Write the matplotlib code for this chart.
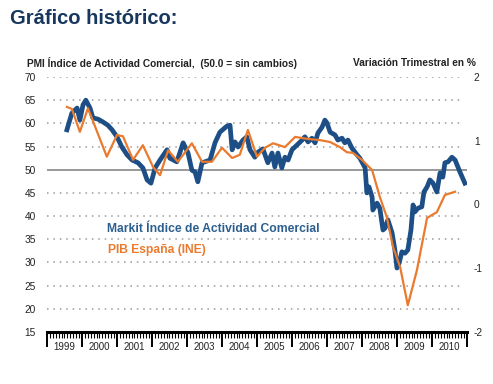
import numpy as np
import matplotlib
matplotlib.use("Agg")
import matplotlib.pyplot as plt
from matplotlib.ticker import MultipleLocator

plt.rcParams['font.family'] = ['Liberation Sans', 'DejaVu Sans']
plt.rcParams['axes.unicode_minus'] = False

# Markit PMI (left axis)
pmi_dates = [1999.57, 1999.71, 1999.86, 1999.94, 2000.03, 2000.11, 2000.23, 2000.31, 2000.46, 2000.6,
             2000.74, 2000.86, 2001.0, 2001.14, 2001.29, 2001.43, 2001.6, 2001.74, 2001.86, 2001.97,
             2002.09, 2002.23, 2002.43, 2002.51, 2002.71, 2002.89, 2003.03, 2003.14, 2003.23, 2003.31,
             2003.43, 2003.51, 2003.66, 2003.8, 2003.94, 2004.14, 2004.23, 2004.29, 2004.37, 2004.46,
             2004.6, 2004.71, 2004.8, 2004.94, 2005.03, 2005.17, 2005.31, 2005.43, 2005.51, 2005.6,
             2005.71, 2005.8, 2005.89, 2006.0, 2006.14, 2006.29, 2006.37, 2006.46, 2006.57, 2006.66,
             2006.74, 2006.86, 2006.94, 2007.0, 2007.09, 2007.23, 2007.31, 2007.43, 2007.51, 2007.6,
             2007.71, 2007.86, 2007.94, 2008.09, 2008.14, 2008.2, 2008.29, 2008.31, 2008.43, 2008.51,
             2008.6, 2008.66, 2008.74, 2008.86, 2008.94, 2009.0, 2009.06, 2009.14, 2009.23, 2009.31,
             2009.4, 2009.46, 2009.51, 2009.6, 2009.71, 2009.77, 2009.86, 2009.94, 2010.03, 2010.14,
             2010.23, 2010.31, 2010.37, 2010.46, 2010.57, 2010.66, 2010.8, 2010.94]
pmi_values = [58.6, 62.2, 63.3, 60.7, 64.0, 65.0, 63.3, 61.2, 60.9, 60.3,
              59.6, 58.6, 57.1, 54.9, 53.2, 52.1, 51.5, 50.4, 47.8, 47.1,
              50.4, 52.1, 54.3, 52.5, 51.7, 55.8, 53.6, 49.9, 49.5, 47.4,
              51.5, 51.7, 52.1, 55.8, 58.1, 59.4, 59.6, 54.3, 56.0, 54.9,
              56.4, 57.1, 54.3, 52.7, 53.8, 54.5, 51.5, 53.6, 50.6, 53.6,
              50.4, 52.7, 52.1, 54.3, 55.3, 56.4, 57.1, 56.0, 56.8, 55.8,
              57.9, 59.2, 60.7, 60.1, 58.1, 57.5, 56.4, 56.8, 55.8, 56.4,
              54.7, 53.2, 52.5, 50.4, 45.0, 46.3, 44.1, 41.3, 42.8, 41.7,
              37.0, 37.4, 39.2, 36.4, 32.7, 28.8, 29.8, 32.3, 32.0, 32.7,
              37.0, 42.4, 40.9, 41.7, 42.0, 45.2, 46.3, 47.8, 47.1, 45.2,
              49.3, 48.4, 51.5, 51.7, 52.7, 52.1, 49.5, 47.1]

# PIB Espana, variacion trimestral % (right axis)
pib_dates = [1999.57, 1999.71, 1999.94, 2000.17, 2000.71, 2001.0, 2001.17, 2001.46, 2001.74, 2002.03,
             2002.23, 2002.46, 2002.74, 2003.14, 2003.43, 2003.71, 2004.0, 2004.29, 2004.51, 2004.74,
             2005.0, 2005.23, 2005.46, 2005.8, 2006.09, 2006.43, 2006.8, 2007.09, 2007.37, 2007.57,
             2007.74, 2008.0, 2008.29, 2008.51, 2008.71, 2008.89, 2009.09, 2009.31, 2009.57, 2009.86,
             2010.14, 2010.37, 2010.66]
pib_values = [1.53, 1.50, 1.14, 1.51, 0.75, 1.09, 1.07, 0.70, 0.93, 0.59,
              0.46, 0.85, 0.67, 0.96, 0.67, 0.67, 0.89, 0.73, 0.78, 1.17,
              0.75, 0.89, 0.96, 0.90, 1.06, 1.03, 1.01, 0.98, 0.90, 0.82,
              0.81, 0.70, 0.54, 0.12, -0.20, -0.67, -0.98, -1.58, -1.03, -0.21,
              -0.12, 0.15, 0.20]

years = list(range(1999, 2011))
left_ticks = list(range(15, 75, 5))
right_ticks = [2, 1, 0, -1, -2]

blue = "#1d4f86"
orange = "#ea7a2e"
txt = "#222222"

fig = plt.figure(figsize=(4.93, 3.84), dpi=100)
ax = fig.add_axes([0.0953, 0.1354, 0.8519, 0.6641])

ax.set_xlim(1999, 2011)
ax.set_ylim(15, 70)

# dotted grid + solid 50 line
for v in left_ticks[1:]:
    if v == 50:
        ax.axhline(v, color="#888888", lw=1.2, zorder=1)
    else:
        ax.axhline(v, xmax=0.99, color="#9a9a9a", lw=1.1, ls=(0, (1, 3.2)), zorder=1)

ax.plot(pmi_dates, pmi_values, color=blue, lw=3.4, solid_joinstyle="round", zorder=3)

for s in ["left", "right", "top"]:
    ax.spines[s].set_visible(False)
ax.spines["bottom"].set_linewidth(2.2)

ax.set_yticks(left_ticks)
ax.tick_params(axis="y", length=0, labelsize=7.3, labelcolor=txt, pad=8)

ax.set_xticks(years + [2011])
ax.set_xticklabels([])
ax.xaxis.set_minor_locator(MultipleLocator(1 / 12))
ax.tick_params(axis="x", which="major", length=11, width=1.4, direction="out")
ax.tick_params(axis="x", which="minor", length=4, width=0.8, direction="out")

for y in years:
    ax.text(y + 0.5, -0.058, str(y), transform=ax.get_xaxis_transform(),
            ha="center", va="center", fontsize=7, color=txt)

ax2 = ax.twinx()
ax2.set_ylim(-2, 2)
ax2.plot(pib_dates, pib_values, color=orange, lw=1.6, zorder=4)
for s in ["left", "right", "top", "bottom"]:
    ax2.spines[s].set_visible(False)
ax2.set_yticks(right_ticks)
ax2.tick_params(axis="y", length=0, labelsize=7.3, labelcolor=txt, pad=5)

fig.text(0.02, 0.952, "Gráfico histórico:", fontsize=14.5, fontweight="bold",
         color="#17375e", ha="left", va="center")
fig.text(0.055, 0.835, "PMI Índice de Actividad Comercial,  (50.0 = sin cambios)",
         fontsize=7.3, fontweight="bold", color=txt, ha="left", va="center")
fig.text(0.965, 0.835, "Variación Trimestral en %", fontsize=7.3, fontweight="bold",
         color=txt, ha="right", va="center")

ax.text(0.143, 0.405, "Markit Índice de Actividad Comercial", transform=ax.transAxes,
        fontsize=8.7, fontweight="bold", color="#2b5f8f", ha="left", va="center")
ax.text(0.145, 0.32, "PIB España (INE)", transform=ax.transAxes,
        fontsize=8.7, fontweight="bold", color=orange, ha="left", va="center")

fig.savefig("out.png", dpi=100, facecolor="white")
